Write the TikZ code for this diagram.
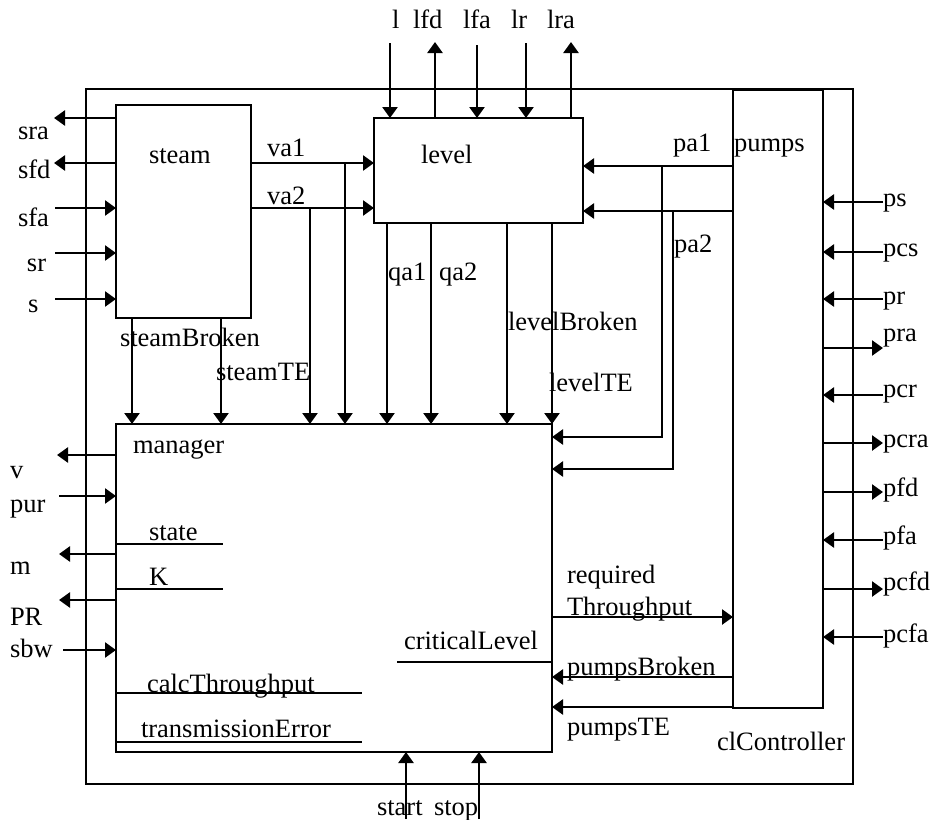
\documentclass[tikz,border=0pt]{standalone}
\usepackage{fontspec}
\setmainfont{Liberation Serif}
\usetikzlibrary{arrows.meta}
\begin{document}
\begin{tikzpicture}[x=1pt,y=-1pt,
  line width=2.5pt,
  every node/.style={font=\fontsize{26.5}{30}\selectfont, inner sep=0pt, outer sep=0pt},
  box/.style={draw, anchor=north west, line width=2.5pt},
  lbl/.style={anchor=base west},
  arr/.style={-{Triangle[length=11pt,width=15pt]}},
]
\useasboundingbox (0,0) rectangle (934,819);

% boxes
\node[box, minimum width=767pt, minimum height=695pt] (frame) at (86,89) {};
\node[box, minimum width=135pt, minimum height=213pt] (steam) at (116,105) {};
\node[box, minimum width=209pt, minimum height=105pt] (level) at (374,118) {};
\node[box, minimum width=436pt, minimum height=328pt] (manager) at (116,424) {};
\node[box, minimum width=90pt, minimum height=618pt] (ctrl) at (733,90) {};

% free-end coordinates
\coordinate (sraE) at (54,118);
\coordinate (sfdE) at (54,163);
\coordinate (sfaE) at (55,208);
\coordinate (srE) at (55,253);
\coordinate (sE) at (55,299);
\coordinate (va1) at (0,163);
\coordinate (va2) at (0,208);
\coordinate (va1b) at (345,163);
\coordinate (va2b) at (310,208);
\coordinate (sbX) at (132,0);
\coordinate (steX) at (221,0);
\coordinate (qa1X) at (387,0);
\coordinate (qa2X) at (431,0);
\coordinate (lbX) at (507,0);
\coordinate (lteX) at (552,0);
\coordinate (lE) at (390,43);
\coordinate (lfdE) at (435,42);
\coordinate (lfaE) at (477,45);
\coordinate (lrE) at (526,43);
\coordinate (lraE) at (571,42);
\coordinate (pa1) at (0,166);
\coordinate (pa2) at (0,211);
\coordinate (pa1b) at (662,166);
\coordinate (pa2b) at (673,211);
\coordinate (pa1c) at (662,437);
\coordinate (pa2c) at (673,469);
\coordinate (vE) at (57,455);
\coordinate (purE) at (59,496);
\coordinate (mE) at (59,554);
\coordinate (prE) at (59,600);
\coordinate (sbwE) at (63,650);
\coordinate (stateE) at (223,544);
\coordinate (kE) at (223,589);
\coordinate (calcE) at (362,693);
\coordinate (transE) at (362,742);
\coordinate (critE) at (397,662);
\coordinate (rt) at (0,617);
\coordinate (pb) at (0,677);
\coordinate (pte) at (0,707);
\coordinate (startE) at (406,819);
\coordinate (stopE) at (479,819);
\coordinate (psE) at (883,202);
\coordinate (pcsE) at (883,252);
\coordinate (prrE) at (883,299);
\coordinate (praE) at (883,348);
\coordinate (pcrE) at (883,395);
\coordinate (pcraE) at (883,443);
\coordinate (pfdE) at (883,492);
\coordinate (pfaE) at (883,540);
\coordinate (pcfdE) at (883,589);
\coordinate (pcfaE) at (883,637);

% steam left side
\draw[arr] (steam.west |- sraE) -- (sraE);
\draw[arr] (steam.west |- sfdE) -- (sfdE);
\draw[arr] (sfaE) -- (steam.west |- sfaE);
\draw[arr] (srE) -- (steam.west |- srE);
\draw[arr] (sE) -- (steam.west |- sE);

% va1 / va2
\draw[arr] (steam.east |- va1) -- (level.west |- va1);
\draw[arr] (steam.east |- va2) -- (level.west |- va2);
\draw[arr] (va1b) -- (manager.north -| va1b);
\draw[arr] (va2b) -- (manager.north -| va2b);

% steam bottom
\draw[arr] (steam.south -| sbX) -- (manager.north -| sbX);
\draw[arr] (steam.south -| steX) -- (manager.north -| steX);

% level bottom
\draw[arr] (level.south -| qa1X) -- (manager.north -| qa1X);
\draw[arr] (level.south -| qa2X) -- (manager.north -| qa2X);
\draw[arr] (level.south -| lbX) -- (manager.north -| lbX);
\draw[arr] (level.south -| lteX) -- (manager.north -| lteX);

% level top
\draw[arr] (lE) -- (level.north -| lE);
\draw[arr] (level.north -| lfdE) -- (lfdE);
\draw[arr] (lfaE) -- (level.north -| lfaE);
\draw[arr] (lrE) -- (level.north -| lrE);
\draw[arr] (level.north -| lraE) -- (lraE);

% pa1 / pa2
\draw[arr] (ctrl.west |- pa1) -- (level.east |- pa1);
\draw[arr] (ctrl.west |- pa2) -- (level.east |- pa2);
\draw[arr] (pa1b) -- (pa1c) -- (manager.east |- pa1c);
\draw[arr] (pa2b) -- (pa2c) -- (manager.east |- pa2c);

% manager left
\draw[arr] (manager.west |- vE) -- (vE);
\draw[arr] (purE) -- (manager.west |- purE);
\draw[arr] (manager.west |- mE) -- (mE);
\draw[arr] (manager.west |- prE) -- (prE);
\draw[arr] (sbwE) -- (manager.west |- sbwE);

% manager internal lines
\draw (manager.west |- stateE) -- (stateE);
\draw (manager.west |- kE) -- (kE);
\draw (manager.west |- calcE) -- (calcE);
\draw (manager.west |- transE) -- (transE);
\draw (critE) -- (manager.east |- critE);

% manager right / ctrl
\draw[arr] (manager.east |- rt) -- (ctrl.west |- rt);
\draw[arr] (ctrl.west |- pb) -- (manager.east |- pb);
\draw[arr] (ctrl.west |- pte) -- (manager.east |- pte);

% start / stop
\draw[arr] (startE) -- (manager.south -| startE);
\draw[arr] (stopE) -- (manager.south -| stopE);

% ctrl right side
\draw[arr] (psE) -- (ctrl.east |- psE);
\draw[arr] (pcsE) -- (ctrl.east |- pcsE);
\draw[arr] (prrE) -- (ctrl.east |- prrE);
\draw[arr] (ctrl.east |- praE) -- (praE);
\draw[arr] (pcrE) -- (ctrl.east |- pcrE);
\draw[arr] (ctrl.east |- pcraE) -- (pcraE);
\draw[arr] (ctrl.east |- pfdE) -- (pfdE);
\draw[arr] (pfaE) -- (ctrl.east |- pfaE);
\draw[arr] (ctrl.east |- pcfdE) -- (pcfdE);
\draw[arr] (pcfaE) -- (ctrl.east |- pcfaE);

% labels
\node[lbl] (tsra) at (18,139) {sra};
\node[lbl] (tsfd) at (18,178) {sfd};
\node[lbl] (tsfa) at (18,226) {sfa};
\node[lbl] (tsr) at (27,271) {sr};
\node[lbl] (ts) at (28,312) {s};
\node[lbl] (tsteam) at (149,163) {steam};
\node[lbl] (tva1) at (267,156) {va1};
\node[lbl] (tva2) at (267,204) {va2};
\node[lbl] (tl) at (392,28) {l};
\node[lbl] (tlfd) at (413,28) {lfd};
\node[lbl] (tlfa) at (463,28) {lfa};
\node[lbl] (tlr) at (511,28) {lr};
\node[lbl] (tlra) at (547,28) {lra};
\node[lbl] (tlevel) at (421,163) {level};
\node[lbl] (tpa1) at (673,151) {pa1};
\node[lbl] (tpumps) at (734,151) {pumps};
\node[lbl] (tpa2) at (674,252) {pa2};
\node[lbl] (tsb) at (120,346) {steamBroken};
\node[lbl] (tste) at (216,380) {steamTE};
\node[lbl] (tqa1) at (388,280) {qa1};
\node[lbl] (tqa2) at (439,280) {qa2};
\node[lbl] (tlb) at (508,330) {levelBroken};
\node[lbl] (tlte) at (549,391) {levelTE};
\node[lbl] (tmanager) at (133,453) {manager};
\node[lbl] (tv) at (10,478) {v};
\node[lbl] (tpur) at (10,512) {pur};
\node[lbl] (tstate) at (149,540) {state};
\node[lbl] (tm) at (10,574) {m};
\node[lbl] (tK) at (149,585) {K};
\node[lbl] (tPR) at (10,625) {PR};
\node[lbl] (tsbw) at (10,657) {sbw};
\node[lbl] (tcalc) at (147,692) {calcThroughput};
\node[lbl] (ttrans) at (141,737) {transmissionError};
\node[lbl] (tcrit) at (404,649) {criticalLevel};
\node[lbl] (treq) at (567,583) {required};
\node[lbl] (tthr) at (567,615) {Throughput};
\node[lbl] (tpb) at (567,675) {pumpsBroken};
\node[lbl] (tpte) at (567,735) {pumpsTE};
\node[lbl] (tctrl) at (717,750) {clController};
\node[lbl] (tstart) at (377,815) {start};
\node[lbl] (tstop) at (434,815) {stop};
\node[lbl] (tps) at (883,206) {ps};
\node[lbl] (tpcs) at (883,256) {pcs};
\node[lbl] (tpr) at (883,304) {pr};
\node[lbl] (tpra) at (883,341) {pra};
\node[lbl] (tpcr) at (883,397) {pcr};
\node[lbl] (tpcra) at (883,447) {pcra};
\node[lbl] (tpfd) at (883,496) {pfd};
\node[lbl] (tpfa) at (883,544) {pfa};
\node[lbl] (tpcfd) at (883,590) {pcfd};
\node[lbl] (tpcfa) at (883,642) {pcfa};
\end{tikzpicture}
\end{document}
